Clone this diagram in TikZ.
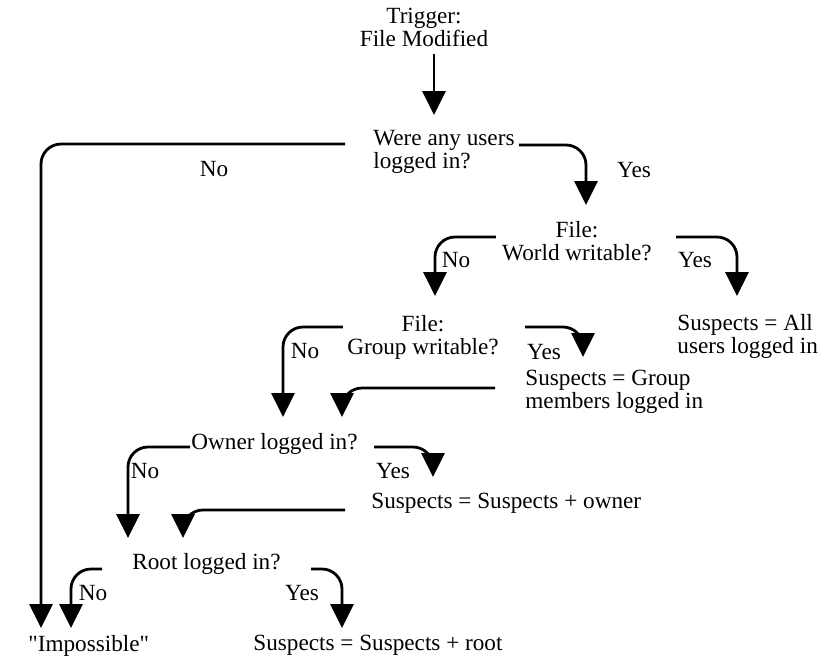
\documentclass[tikz,border=0pt]{standalone}
\usepackage{fontspec}
\setmainfont{Liberation Serif}[Ligatures=TeXOff]
\usetikzlibrary{arrows.meta, calc}

\begin{document}
\begin{tikzpicture}[
    x=0.5pt, y=-0.5pt,
    txt/.style={inner sep=0pt, font=\fontsize{11.6pt}{11.5pt}\selectfont},
    ask/.style={txt, align=center, anchor=north},
    note/.style={txt, align=left, anchor=north west},
    answer/.style={txt},
    flow/.style={-{Triangle[width=11.5pt, length=12pt]}, line width=1.4pt, rounded corners=10pt},
]
\useasboundingbox (0,0) rectangle (825,666);

% Trigger
\node[ask] (trig) at (424,8) {Trigger:\\File Modified};

% Questions
\node[note] (wau) at (373,130) {Were any users\\logged in?};
\node[ask] (wwr) at (577,221) {File:\\World writable?};
\node[ask] (gwr) at (423,315) {File:\\Group writable?};
\node[note] (own) at (191,433) {Owner logged in?};
\node[note] (root) at (132,553) {Root logged in?};

% Results
\node[note] (all) at (677,314) {Suspects = All\\users logged in};
\node[note] (gm) at (525,370) {Suspects = Group\\members logged in};
\node[note] (sso) at (371,493) {Suspects = Suspects + owner};
\node[note] (imp) at (28,635) {"Impossible"};
\node[note] (ssr) at (253,635) {Suspects = Suspects + root};

% Answers
\node[answer] (no1) at (214,169) {No};
\node[answer] (yes1) at (634,170) {Yes};
\node[answer] (no2) at (456,260) {No};
\node[answer] (yes2) at (695,260) {Yes};
\node[answer] (no3) at (305,351) {No};
\node[answer] (yes3) at (544,352) {Yes};
\node[answer] (no4) at (145,471) {No};
\node[answer] (yes4) at (393,471) {Yes};
\node[answer] (no5) at (93,593) {No};
\node[answer] (yes5) at (302,593) {Yes};

% Arrows
\draw[flow] ([shift={(10,7)}]trig.south) -- ($(trig.south |- wau.north)+(10,-15)$);
\draw[flow] ([shift={(-28,14)}]wau.north west) -| ([shift={(13,-7)}]imp.north west);
\draw[flow] ([shift={(4,15)}]wau.north east) -| ([shift={(9,-16)}]wwr.north);
\draw[flow] ([shift={(-6,16)}]wwr.north west) -| ([shift={(12,-19)}]gwr.north);
\draw[flow] ([shift={(24,16)}]wwr.north east) -| ([shift={(60,-18)}]all.north west);
\draw[flow] ([shift={(-4,12)}]gwr.north west) -| ([shift={(92,-16)}]own.north west);
\draw[flow] ([shift={(26,12)}]gwr.north east) -| ([shift={(58,-13)}]gm.north west);
\draw[flow] ([shift={(-30,18)}]gm.north west) -| ([shift={(151,-16)}]own.north west);
\draw[flow] ([shift={(-1,14)}]own.north west) -| ([shift={(-4,-15)}]root.north west);
\draw[flow] ([shift={(16,14)}]own.north east) -| ([shift={(62,-16)}]sso.north west);
\draw[flow] ([shift={(-26,17)}]sso.north west) -| ([shift={(51,-15)}]root.north west);
\draw[flow] ([shift={(-30,16)}]root.north west) -| ([shift={(43,-7)}]imp.north west);
\draw[flow] ([shift={(30,16)}]root.north east) -| ([shift={(89,-7)}]ssr.north west);

\end{tikzpicture}
\end{document}
